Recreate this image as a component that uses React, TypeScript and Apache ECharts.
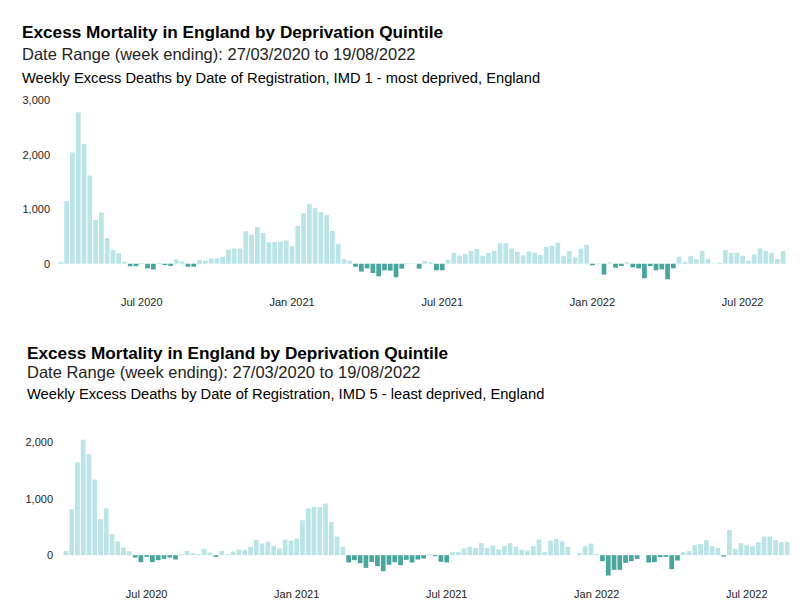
import React, { useEffect, useRef } from "react";
import * as echarts from "echarts";

const START_WEEK = "2020-03-27";
const WEEK_COUNT = 126;

const TICK_WEEKS = ["03/07/2020", "01/01/2021", "02/07/2021", "31/12/2021", "01/07/2022"];
const TICK_LABELS = ["Jul 2020", "Jan 2021", "Jul 2021", "Jan 2022", "Jul 2022"];

const TITLE = "Excess Mortality in England by Deprivation Quintile";
const DATE_RANGE = "Date Range (week ending): 27/03/2020 to 19/08/2022";
const SUB_IMD1 = "Weekly Excess Deaths by Date of Registration, IMD 1 - most deprived, England";
const SUB_IMD5 = "Weekly Excess Deaths by Date of Registration, IMD 5 - least deprived, England";

const IMD1 = [
  30, 1150, 2040, 2775, 2195, 1615, 800, 940, 470, 250, 190,
  36, -45, -45, -5, -85, -105, 18, -25, -40, 79,
  42, -55, -55, 67, 55, 97, 97, 127, 260, 279,
  279, 594, 533, 673, 564, 394, 394, 406, 424, 327,
  691, 925, 1095, 1020, 951, 891, 600, 364, 85, 55,
  -55, -145, -85, -170, -230, -120, -127, -248, -90, 12,
  6, -90, 48, 30, -120, -120, 73, 200, 150, 180,
  236, 273, 145, 200, 236, 376, 376, 279, 218, 152,
  225, 206, 158, 309, 327, 388, 145, 230, 115, 273, 345,
  -30, 8, -200, 24, -73, -42, 30, -67, -85, -267, -42, -121, -103, -285, -85,
  127, 36, 139, 79, 236, 85, 6, 18, 248, 200, 200, 145, 55, 170, 279, 236, 200, 85, 230,
];

const IMD5 = [
  76, 811, 1640, 2040, 1782, 1335, 635, 829, 370, 241, 135, 70,
  -41, -123, -30, -123, -88, -65, -41, -76,
  18, 76, 35, 18, 112, 47, -30, 76, 18, 65, 100, 94, 147, 270, 206, 241, 165,
  118, 276, 259, 294, 617, 823, 853, 847, 911, 588, 329, 147,
  -129, -88, -141, -223, -118, -194, -282, -170, -123, -176, -82, -129, -76, -59, 18, -18, -118, -129,
  53, 53, 118, 147, 129, 212, 129, 170, 100, 159, 212, 147, 94, 82, 162, 276,
  53, 259, 288, 247, 147, 0, 41, 159, 206, 18,
  -106, -359, -259, -259, -135, -106, -65, 5, -129, -123, -35, -30, -247, -94,
  53, 71, 176, 200, 265, 159, 129, -24, 441, 112, 212, 176, 159, 229, 329, 329, 265, 235, 235,
];

const LIGHT = "#bae4e6";
const DARK = "#48a69c";
const FONT = "'Liberation Sans', Arial, sans-serif";

function weekLabels(): string[] {
  const out: string[] = [];
  const base = new Date(START_WEEK + "T12:00:00Z").getTime();
  for (let i = 0; i < WEEK_COUNT; i++) {
    const d = new Date(base + i * 7 * 86400000);
    const dd = String(d.getUTCDate()).padStart(2, "0");
    const mm = String(d.getUTCMonth() + 1).padStart(2, "0");
    out.push(`${dd}/${mm}/${d.getUTCFullYear()}`);
  }
  return out;
}

export default function App() {
  const ref = useRef<HTMLDivElement>(null);
  useEffect(() => {
    if (!ref.current) return;
    const chart = echarts.init(ref.current, undefined, { renderer: "svg" });
    const weeks = weekLabels();

    const xAxis = (gridIndex: number) => ({
      type: "category",
      gridIndex,
      data: weeks,
      axisLine: { show: false },
      axisTick: { show: false },
      splitLine: { show: false },
      axisLabel: {
        interval: (_i: number, v: string) => TICK_WEEKS.includes(v),
        formatter: (v: string) => {
          const k = TICK_WEEKS.indexOf(v);
          return k >= 0 ? TICK_LABELS[k] : "";
        },
        color: "#252423",
        fontSize: 11,
        fontFamily: FONT,
        margin: 5,
        hideOverlap: false,
      },
    });

    const yAxis = (gridIndex: number, max: number, margin: number) => ({
      type: "value",
      gridIndex,
      min: -500,
      max,
      interval: 500,
      axisLine: { show: false },
      axisTick: { show: false },
      splitLine: { show: false },
      axisLabel: {
        formatter: (v: number) => (v >= 0 && v % 1000 === 0 ? v.toLocaleString("en-US") : ""),
        color: "#252423",
        fontSize: 11,
        fontFamily: FONT,
        margin,
      },
    });

    const series = (idx: number, data: number[]) => ({
      type: "bar",
      xAxisIndex: idx,
      yAxisIndex: idx,
      data,
      barCategoryGap: "18%",
      itemStyle: {
        color: (p: any) => (p.value < 0 ? DARK : LIGHT),
      },
    });

    const text = (t: string, x: number, y: number, size: number, bold: boolean, fill: string) => ({
      type: "text",
      style: {
        text: t,
        x,
        y,
        fill,
        fontSize: size,
        fontWeight: bold ? "bold" : "normal",
        fontFamily: FONT,
        verticalAlign: "middle",
      },
    });

    chart.setOption({
      animation: false,
      backgroundColor: "#ffffff",
      grid: [
        { left: 58, right: 21, top: 100, height: 191, containLabel: false },
        { left: 63, right: 17, top: 413.6, height: 169.9, containLabel: false },
      ],
      xAxis: [xAxis(0), xAxis(1)],
      yAxis: [yAxis(0, 3000, 8), yAxis(1, 2500, 10)],
      series: [series(0, IMD1), series(1, IMD5)],
      graphic: [
        text(TITLE, 22, 32, 17.2, true, "#000000"),
        text(DATE_RANGE, 22, 54, 16.5, false, "#252423"),
        text(SUB_IMD1, 22, 78, 14.7, false, "#000000"),
        text(TITLE, 27, 353, 17.2, true, "#000000"),
        text(DATE_RANGE, 27, 372, 16.5, false, "#252423"),
        text(SUB_IMD5, 27, 394, 14.7, false, "#000000"),
      ],
    });
    return () => chart.dispose();
  }, []);
  return (
    <div
      ref={ref}
      style={{ position: "absolute", left: 0, top: 0, width: 807, height: 611, background: "#fff" }}
    />
  );
}
